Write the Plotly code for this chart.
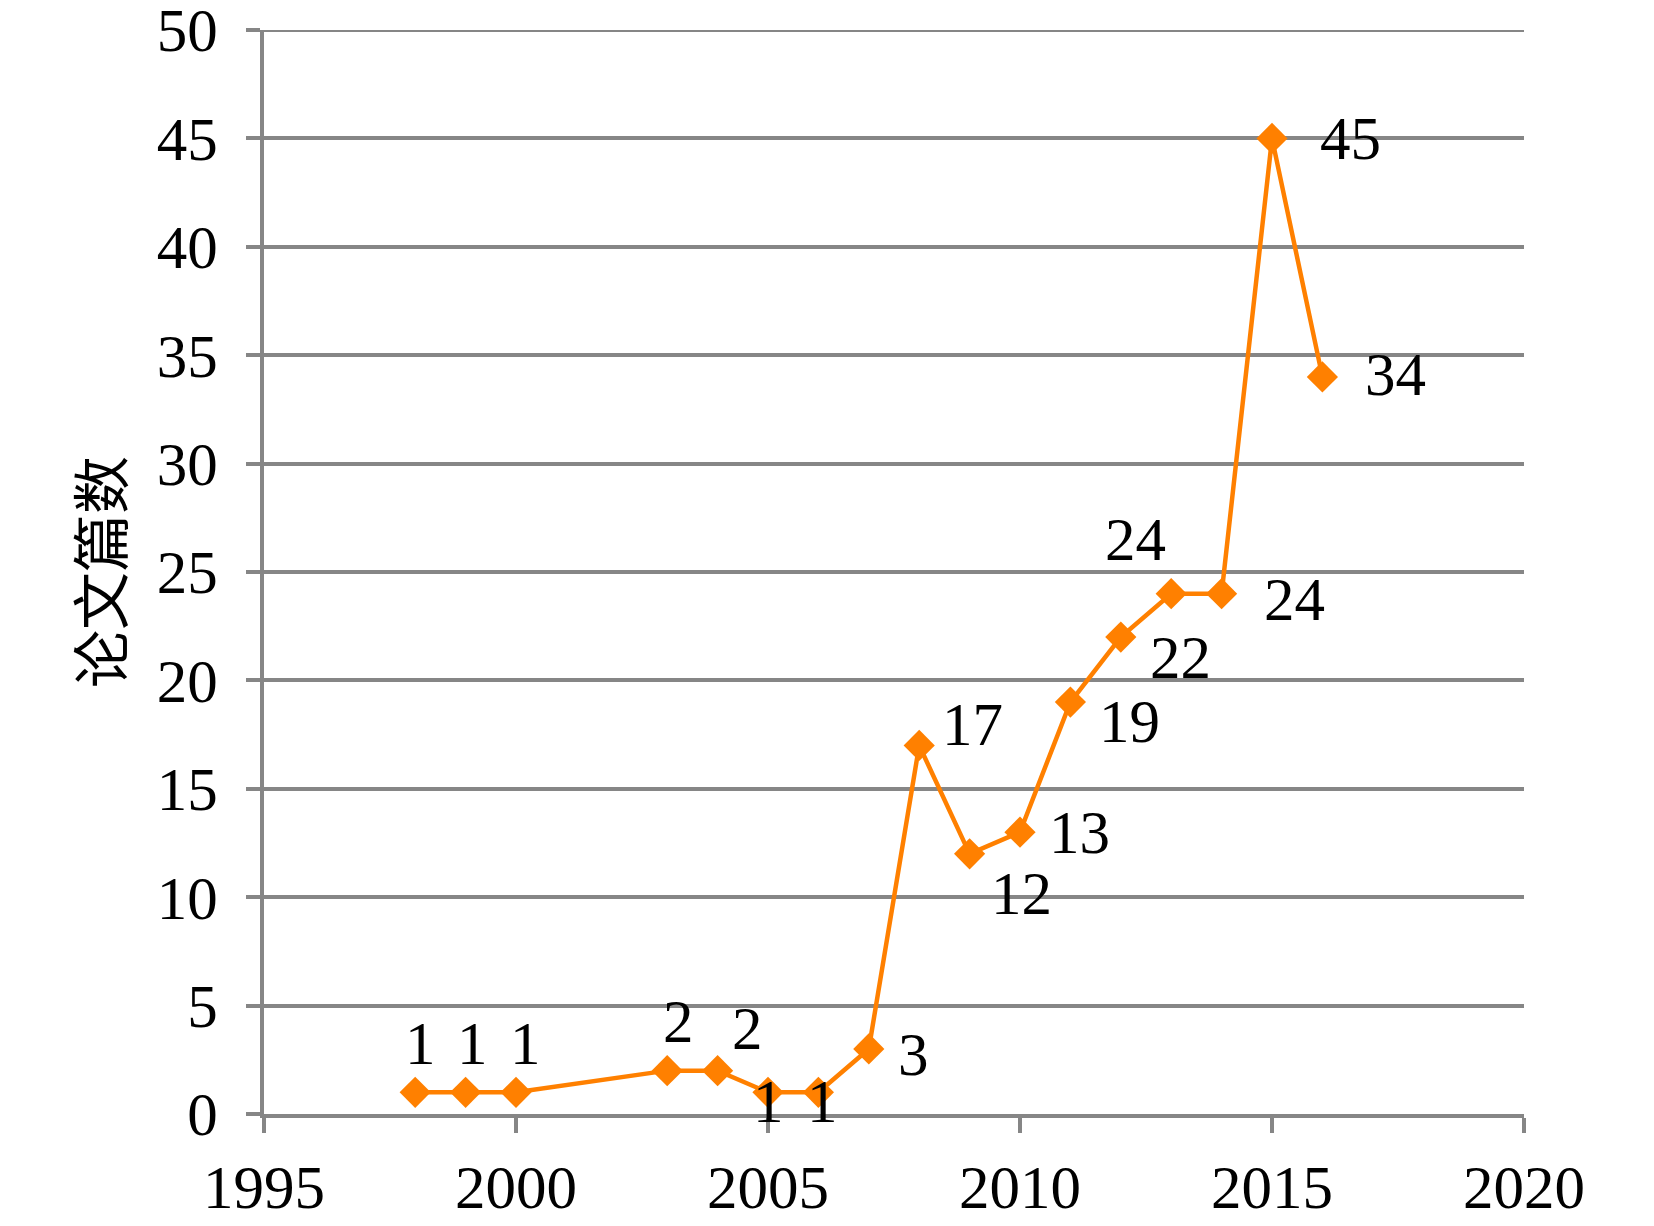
import plotly.graph_objects as go

years = [1998, 1999, 2000, 2003, 2004, 2005, 2006, 2007, 2008, 2009, 2010, 2011, 2012, 2013, 2014, 2015, 2016]
papers = [1, 1, 1, 2, 2, 1, 1, 3, 17, 12, 13, 19, 22, 24, 24, 45, 34]
x_ticks = [1995, 2000, 2005, 2010, 2015, 2020]
y_ticks = [0, 5, 10, 15, 20, 25, 30, 35, 40, 45, 50]
y_title = "论文篇数"

# label offsets in pixels (dx, dy up)
label_dx = [5, 7, 9, 11, 30, 0, 4, 45, 53, 52, 59, 59, 60, -36, 73, 78, 73]
label_dy = [47, 47, 47, 47, 40, -11, -11, -8, 19, -42, -2, -21, -22, 52, -8, -2, 0]

ORANGE = "#FF8000"
GRID = "#868686"
FONT = "Liberation Serif"
FS = 61

fig = go.Figure()
fig.add_trace(go.Scatter(
    x=years, y=papers, mode="lines+markers",
    line=dict(color=ORANGE, width=4.5),
    marker=dict(symbol="diamond", size=24, color=ORANGE),
    showlegend=False, hoverinfo="skip", cliponaxis=False,
))

for x, y, dx, dy in zip(years, papers, label_dx, label_dy):
    fig.add_annotation(x=x, y=y, text=str(y), showarrow=False,
                       xshift=dx, yshift=dy + 2,
                       font=dict(family=FONT, size=FS, color="black"))

fig.add_annotation(xref="paper", yref="paper", x=-0.1317, y=0.5,
                   xanchor="center", yanchor="middle",
                   text=y_title, textangle=-90, showarrow=False,
                   font=dict(family="Noto Sans CJK SC", size=58, color="black"))

# top gridline at the range end
fig.add_shape(type="line", xref="paper", yref="y", x0=0, x1=1, y0=y_ticks[-1], y1=y_ticks[-1],
              line=dict(color=GRID, width=4), layer="below")

fig.update_layout(
    width=1654, height=1226,
    margin=dict(l=256, r=138, t=22, b=120, autoexpand=False),
    paper_bgcolor="white", plot_bgcolor="white",
    font=dict(family=FONT, size=FS, color="black"),
    xaxis=dict(range=[1995, 2020], tickvals=x_ticks, ticktext=[str(v) for v in x_ticks],
               showgrid=False, showline=True, linecolor=GRID, linewidth=4,
               ticks="outside", ticklen=15, tickwidth=4, tickcolor=GRID,
               zeroline=False, ticklabelstandoff=2, automargin=False,
               ticklabeloverflow="allow",
               tickfont=dict(family=FONT, size=FS, color="black")),
    yaxis=dict(range=[0, 50], tickvals=y_ticks, ticktext=[str(v) for v in y_ticks],
               showgrid=True, gridcolor=GRID, gridwidth=4,
               showline=True, linecolor=GRID, linewidth=4,
               ticks="outside", ticklen=14, tickwidth=4, tickcolor=GRID,
               zeroline=False, ticklabelstandoff=16, automargin=False,
               ticklabeloverflow="allow",
               tickfont=dict(family=FONT, size=FS, color="black")),
)

fig.write_html("out.html")
